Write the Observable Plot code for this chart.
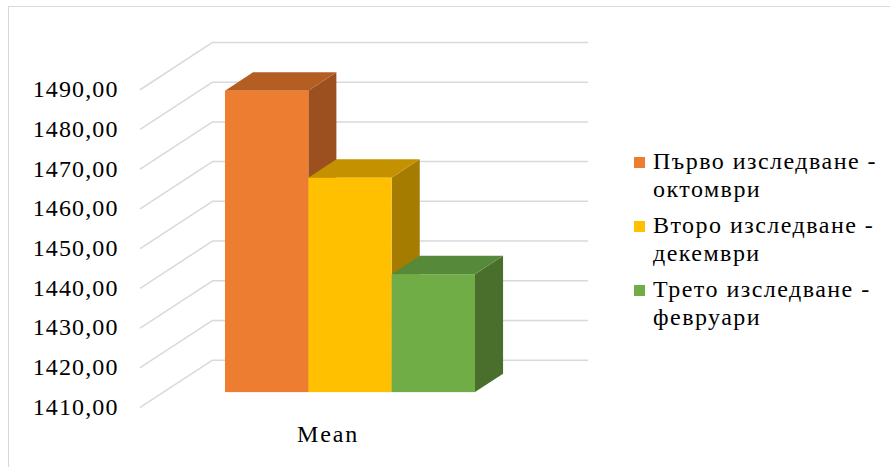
<!DOCTYPE html>
<html><head><meta charset="utf-8">
<script src="https://cdn.jsdelivr.net/npm/d3@7"></script>
<script src="https://cdn.jsdelivr.net/npm/@observablehq/plot@0.6"></script>
<style>
html,body{margin:0;padding:0;background:#fff;width:890px;height:467px;overflow:hidden;}
#wrap{position:relative;width:890px;height:467px;}
#chart{position:absolute;left:0;top:0;}
#frame{position:absolute;left:8px;top:6px;width:900px;height:480px;border-top:1.5px solid #d9d9d9;border-left:1.5px solid #d9d9d9;}
#legend{position:absolute;left:634px;top:147px;font-size:24px;line-height:28px;color:#000;white-space:nowrap;}
.item{display:flex;align-items:flex-start;margin-bottom:8px;}
.sw{width:11px;height:11px;margin-top:9.5px;margin-right:8px;flex:none;}
</style></head>
<body><div id="wrap"><div id="frame"></div><div id="chart"></div><div id="legend"></div></div>
<script>
// ---- data ----
const category = "Mean";
const series = ["Първо изследване - октомври", "Второ изследване - декември", "Трето изследване - февруари"];
const values = [1485.9, 1464.0, 1439.7];
const yTicks = [1410, 1420, 1430, 1440, 1450, 1460, 1470, 1480, 1490];

// ---- palette ----
const frontColors = ["#ED7D31", "#FFC000", "#70AD47"];
const topColors = ["#B45E24", "#C49200", "#568A3A"];
const sideColors = ["#9D501F", "#A57C00", "#4A6F2D"];

// ---- font (serif, like Times New Roman) ----
const family = `"Liberation Serif", "DejaVu Serif", "Noto Serif", "Times New Roman", Times, serif`;
const ctx = document.createElement("canvas").getContext("2d");
function width(font, str) { ctx.font = font; return ctx.measureText(str).width; }
const fmt = d => d.toFixed(2).replace(".", ",");
let fs = 24;
const w24 = width(`24px ${family}`, fmt(1490));
if (w24 > 86) fs = 24 * 86 / w24;
const fontStr = `${fs}px ${family}`;
const lsAxis = Math.max(0, (86 - width(fontStr, fmt(1490))) / 7);
const lsMean = Math.max(0, (62 - width(fontStr, category)) / 4);

// ---- 3D layout (in scale units) ----
const xMax = 4.5;
const base = yTicks[0];
const dxF = 0.864, dyF = 11.84;
const f0 = 0.31, f1 = 0.70;
const barStart = 0.752, barW = 1;

const fronts = [], tops = [], sides = [];
series.forEach((s, i) => {
  const v = values[i];
  const x1 = barStart + i * barW + f0 * dxF, x2 = x1 + barW;
  const ddx = (f1 - f0) * dxF, ddy = (f1 - f0) * dyF;
  const yb = base + f0 * dyF, yt = v + f0 * dyF;
  fronts.push({s, x1, x2, y1: yb, y2: yt, c: frontColors[i]});
  tops.push({s, y: yt, x1, x2, c: topColors[i]});
  tops.push({s, y: yt + ddy, x1: x1 + ddx, x2: x2 + ddx, c: topColors[i]});
  sides.push({s, x: x2, y1: yb, y2: yt, c: sideColors[i]});
  sides.push({s, x: x2 + ddx, y1: yb + ddy, y2: yt + ddy, c: sideColors[i]});
});

const grid = [];
yTicks.forEach(t => {
  grid.push({t, x: 0, y: t});
  grid.push({t, x: dxF, y: t + dyF});
  grid.push({t, x: xMax + dxF, y: t + dyF});
});

const chart = Plot.plot({
  width: 890,
  height: 467,
  marginLeft: 140,
  marginRight: 375,
  marginTop: 89,
  marginBottom: 60.3,
  x: {domain: [0, xMax], axis: null},
  y: {domain: [yTicks[0], yTicks[yTicks.length - 1]], axis: null},
  color: {type: "identity"},
  style: {fontFamily: family, fontSize: fs + "px", color: "#000", background: "transparent", overflow: "visible"},
  marks: [
    Plot.line(grid, {x: "x", y: "y", z: "t", stroke: "#d9d9d9", strokeWidth: 1.5}),
    Plot.areaY(sides, {x: "x", y1: "y1", y2: "y2", z: "s", fill: "c"}),
    Plot.areaX(tops, {y: "y", x1: "x1", x2: "x2", z: "s", fill: "c"}),
    Plot.rect(fronts, {x1: "x1", x2: "x2", y1: "y1", y2: "y2", fill: "c"}),
    Plot.axisY(yTicks, {tickSize: 0, tickPadding: 23 - lsAxis, tickFormat: fmt, fontSize: fs, fill: "#000", label: null}),
    Plot.text([category], {x: xMax / 2, y: base, dy: 27.5, text: d => d, fontSize: fs, fill: "#000"})
  ]
});
document.getElementById("chart").appendChild(chart);
chart.querySelectorAll("g[aria-label='y-axis tick label'] text").forEach(t => t.style.letterSpacing = lsAxis + "px");
chart.querySelectorAll("g[aria-label='text'] text").forEach(t => t.style.letterSpacing = lsMean + "px");

const legend = document.getElementById("legend");
legend.style.fontFamily = family;
legend.style.fontSize = fs + "px";
const firstLines = [];
series.forEach((s, i) => {
  const item = document.createElement("div");
  item.className = "item";
  const sw = document.createElement("div");
  sw.className = "sw";
  sw.style.background = frontColors[i];
  const txt = document.createElement("div");
  const k = s.indexOf(" - ");
  const l1 = document.createElement("span");
  l1.textContent = s.slice(0, k) + " -";
  firstLines.push(l1);
  txt.appendChild(l1);
  txt.appendChild(document.createElement("br"));
  txt.appendChild(document.createTextNode(s.slice(k + 3)));
  item.appendChild(sw);
  item.appendChild(txt);
  legend.appendChild(item);
});
// fit the first legend line to the width seen in the picture (about 224px)
const w0 = firstLines[0].getBoundingClientRect().width;
const lsLeg = Math.max(0, (224 - w0) / firstLines[0].textContent.length);
legend.style.letterSpacing = lsLeg + "px";
</script>
</body></html>
